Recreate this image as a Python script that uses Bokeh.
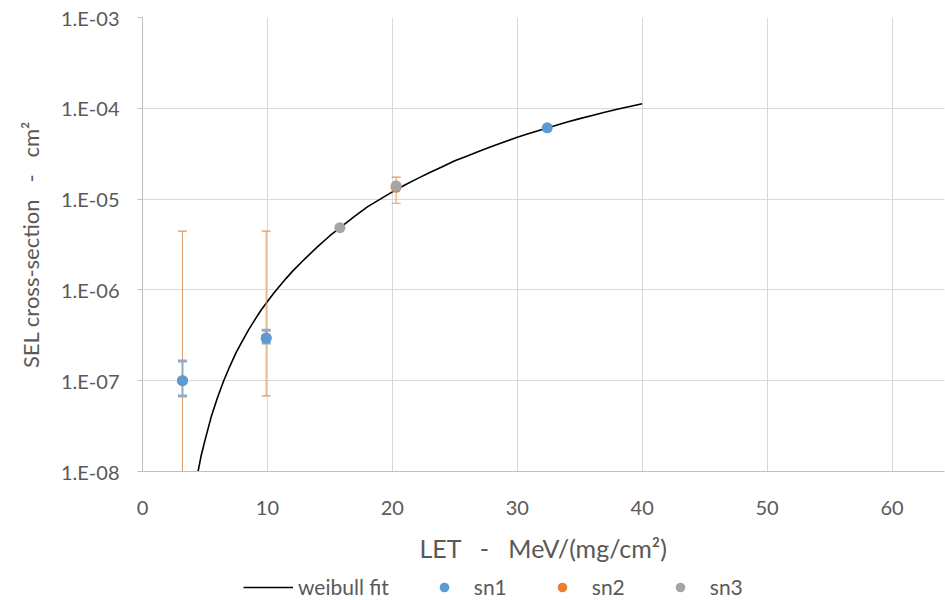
from bokeh.plotting import figure
from bokeh.layouts import column
from bokeh.models import (FixedTicker, CustomJSTickFormatter, Range1d, Legend,
                          LegendItem)
from bokeh.embed import file_html
from bokeh.resources import INLINE

# Weibull fit of the SEL cross-section (LET in MeV/(mg/cm2), sigma in cm2)
fit_let = [4.2, 4.4, 4.7, 5.0, 5.5, 6.0, 6.5, 7.0, 7.5, 8.0, 8.5, 9.0, 9.5,
           10.0, 10.5, 11.0, 11.5, 12.0, 13.0, 14.0, 15.0, 16.0, 17.0, 18.0,
           19.0, 20.0, 21.0, 22.0, 23.0, 24.0, 25.0, 26.0, 27.0, 28.0, 29.0,
           30.0, 31.0, 32.0, 33.0, 34.0, 35.0, 36.0, 37.0, 38.0, 39.0, 40.0]
fit_xs = [6.5e-9, 9.3e-9, 1.5e-8, 2.2e-8, 4.0e-8, 6.5e-8, 1.0e-7, 1.45e-7,
          2.05e-7, 2.75e-7, 3.65e-7, 4.7e-7, 6.0e-7, 7.45e-7, 9.2e-7, 1.11e-6,
          1.34e-6, 1.6e-6, 2.2e-6, 2.98e-6, 3.95e-6, 5.08e-6, 6.5e-6, 8.2e-6,
          9.94e-6, 1.2e-5, 1.43e-5, 1.68e-5, 1.96e-5, 2.27e-5, 2.65e-5, 2.99e-5,
          3.39e-5, 3.82e-5, 4.28e-5, 4.8e-5, 5.3e-5, 5.84e-5, 6.43e-5, 7.05e-5,
          7.7e-5, 8.35e-5, 9.03e-5, 9.75e-5, 1.045e-4, 1.12e-4]

# Measured cross-sections per device, with confidence bounds
sn1_let = [3.2, 9.9, 32.4]
sn1_xs = [1.0e-7, 2.95e-7, 6.1e-5]
sn1_lo = [6.8e-8, 2.6e-7, 5.8e-5]
sn1_hi = [1.65e-7, 3.6e-7, 6.4e-5]

sn2_let = [3.2, 9.9, 20.3]
sn2_xs = [1.0e-7, 2.95e-7, 1.35e-5]
sn2_lo = [1.0e-9, 6.8e-8, 9.0e-6]
sn2_hi = [4.45e-6, 4.45e-6, 1.75e-5]

sn3_let = [15.8, 20.3]
sn3_xs = [4.85e-6, 1.4e-5]

x_ticks = [0, 10, 20, 30, 40, 50, 60]
y_ticks = [1e-8, 1e-7, 1e-6, 1e-5, 1e-4, 1e-3]

FONT = "Lato"
TXT = "#595959"
GRID = "#D9D9D9"
BLUE, ORANGE, GRAY = "#5B9BD5", "#ED7D31", "#A5A5A5"
NB = "\u00a0"

p = figure(width=945, height=566, y_axis_type="log", output_backend="svg",
           toolbar_location=None,
           x_range=Range1d(0, 64.2), y_range=Range1d(1e-8, 1e-3),
           min_border_left=142, min_border_right=1, min_border_top=17,
           min_border_bottom=95)
p.outline_line_color = None
p.background_fill_color = "white"

# axes
p.xaxis.ticker = FixedTicker(ticks=x_ticks)
p.yaxis.ticker = FixedTicker(ticks=y_ticks)
p.yaxis.formatter = CustomJSTickFormatter(code="""
const e = Math.round(Math.log10(tick));
return '1.E' + (e < 0 ? '-' : '+') + String(Math.abs(e)).padStart(2, '0');
""")
for ax in (p.xaxis[0], p.yaxis[0]):
    ax.axis_line_color = "#BFBFBF"
    ax.major_tick_line_color = "#BFBFBF"
    ax.minor_tick_line_color = None
    ax.major_tick_in = 0
    ax.major_label_text_font = FONT
    ax.major_label_text_font_size = "20px"
    ax.major_label_text_color = TXT
    ax.axis_label_text_font = FONT
    ax.axis_label_text_font_style = "normal"
    ax.axis_label_text_color = TXT
p.xaxis.major_tick_out = 0
p.xaxis.major_label_standoff = 29
p.xaxis.axis_label = f"LET {NB}{NB}-{NB}{NB} MeV/(mg/cm²)"
p.xaxis.axis_label_text_font_size = "25px"
p.xaxis.axis_label_standoff = 15
p.yaxis.major_tick_out = 5
p.yaxis.major_label_standoff = 18
p.yaxis.axis_label = f"SEL cross-section {NB}{NB}-{NB}{NB} cm²"
p.yaxis.axis_label_text_font_size = "22px"
p.yaxis.axis_label_standoff = 14

p.xgrid.ticker = FixedTicker(ticks=x_ticks)
p.ygrid.ticker = FixedTicker(ticks=y_ticks)
p.xgrid.grid_line_color = GRID
p.ygrid.grid_line_color = GRID

# fitted curve
p.line(fit_let, fit_xs, line_color="black", line_width=1.6)

# error bars
ERR2, ERR1 = "#DE9A62", "#93A9C4"
p.segment(x0=sn2_let, y0=sn2_lo, x1=sn2_let, y1=sn2_hi, line_color=ERR2, line_width=1)
p.scatter(sn2_let, sn2_hi, marker="dash", size=9, line_color=ERR2, line_width=1.2)
p.scatter(sn2_let, sn2_lo, marker="dash", size=9, line_color=ERR2, line_width=1.2)
p.segment(x0=sn1_let, y0=sn1_lo, x1=sn1_let, y1=sn1_hi, line_color=ERR1, line_width=2)
p.scatter(sn1_let, sn1_hi, marker="dash", size=9, line_color=ERR1, line_width=3)
p.scatter(sn1_let, sn1_lo, marker="dash", size=9, line_color=ERR1, line_width=3)

# markers
p.scatter(sn2_let, sn2_xs, size=11, fill_color=ORANGE, line_color=None)
p.scatter(sn1_let, sn1_xs, size=11, fill_color=BLUE, line_color=None)
p.scatter(sn3_let, sn3_xs, size=11, fill_color=GRAY, line_color=None)

# legend strip below the chart (its frame lines up with the chart frame)
lg = figure(width=945, height=34, output_backend="svg", toolbar_location=None,
            x_range=Range1d(0, 1), y_range=Range1d(0, 1),
            min_border=0, min_border_left=142, min_border_right=1,
            min_border_top=0, min_border_bottom=0)
lg.axis.visible = False
lg.grid.visible = False
lg.outline_line_color = None
k_fit = lg.line([5, 6], [5, 6], line_color="black", line_width=1.6)
k1 = lg.scatter([5], [5], size=11, fill_color=BLUE, line_color=None)
k2 = lg.scatter([5], [5], size=11, fill_color=ORANGE, line_color=None)
k3 = lg.scatter([5], [5], size=11, fill_color=GRAY, line_color=None)

legend = Legend(items=[
    LegendItem(label="weibull fit", renderers=[k_fit]),
    LegendItem(label="sn1", renderers=[k1]),
    LegendItem(label="sn2", renderers=[k2]),
    LegendItem(label="sn3", renderers=[k3]),
], orientation="horizontal", location=(101, 1))
legend.glyph_width = 50
legend.glyph_height = 24
legend.label_height = 22
legend.label_standoff = 5
legend.spacing = 30
legend.padding = 0
legend.margin = 0
legend.border_line_color = None
legend.background_fill_alpha = 0
legend.label_text_font = FONT
legend.label_text_font_size = "21px"
legend.label_text_color = TXT
lg.add_layout(legend, "center")

page = column(p, lg, spacing=0)
open("out.html", "w").write(file_html(page, INLINE))
